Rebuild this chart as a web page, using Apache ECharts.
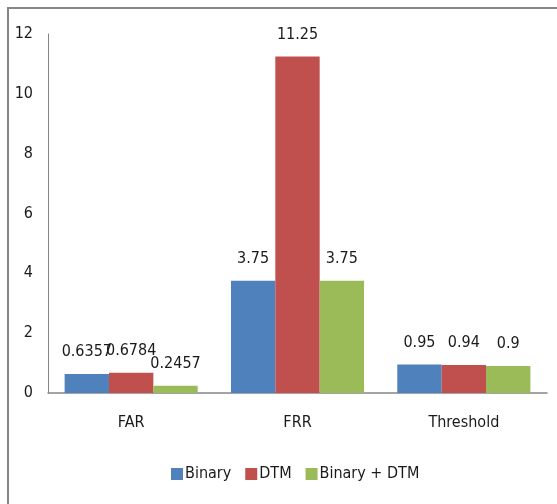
<!DOCTYPE html>
<html>
<head>
<meta charset="utf-8">
<script src="https://cdn.jsdelivr.net/npm/echarts@6/dist/echarts.min.js"></script>
<style>
  html, body { margin: 0; padding: 0; background: #fff; }
  #chart { width: 557px; height: 504px; }
</style>
</head>
<body>
<div id="chart"></div>
<script>
// Categories and series values
const categories = ['FAR', 'FRR', 'Threshold'];
const binary = [0.6357, 3.75, 0.95];
const dtm = [0.6784, 11.25, 0.94];
const binaryDtm = [0.2457, 3.75, 0.9];
const seriesNames = ['Binary', 'DTM', 'Binary + DTM'];
const colors = ['#4F81BD', '#C0504D', '#9BBB59'];

const FONT = "'DejaVu Sans Condensed', 'Liberation Sans Narrow', sans-serif";

const chart = echarts.init(document.getElementById('chart'), null, { renderer: 'canvas' });

function barSeries(name, data, color) {
  return {
    name: name,
    type: 'bar',
    data: data,
    barGap: '0%',
    barCategoryGap: '20%',
    itemStyle: { color: color },
    label: {
      show: true,
      position: 'top',
      distance: 14,
      color: '#1a1a1a',
      fontFamily: FONT,
      fontSize: 16
    },
    emphasis: { disabled: true }
  };
}

chart.setOption({
  animation: false,
  backgroundColor: '#fff',
  graphic: [
    { type: 'line', shape: { x1: 7, y1: 8, x2: 557, y2: 8 }, style: { stroke: '#868686', lineWidth: 2 } },
    { type: 'line', shape: { x1: 8, y1: 7, x2: 8, y2: 504 }, style: { stroke: '#868686', lineWidth: 2 } }
  ],
  grid: { left: 48, right: 10, top: 34, bottom: 111 },
  legend: {
    data: seriesNames,
    left: 166,
    top: 461,
    itemWidth: 12,
    itemHeight: 12,
    itemGap: 14,
    icon: 'rect',
    textStyle: { fontFamily: FONT, fontSize: 16, color: '#1a1a1a', padding: [0, 0, 0, -3] }
  },
  xAxis: {
    type: 'category',
    data: categories,
    axisLine: { lineStyle: { color: '#868686', width: 1.5 } },
    axisTick: { show: false },
    axisLabel: { margin: 22, fontFamily: FONT, fontSize: 16, color: '#1a1a1a' }
  },
  yAxis: {
    type: 'value',
    min: 0,
    max: 12,
    interval: 2,
    splitLine: { show: false },
    axisLine: { show: true, lineStyle: { color: '#868686', width: 1 } },
    axisTick: { show: false },
    axisLabel: { margin: 15, fontFamily: FONT, fontSize: 16, color: '#1a1a1a' }
  },
  series: [
    barSeries(seriesNames[0], binary, colors[0]),
    barSeries(seriesNames[1], dtm, colors[1]),
    barSeries(seriesNames[2], binaryDtm, colors[2])
  ]
});
</script>
</body>
</html>
